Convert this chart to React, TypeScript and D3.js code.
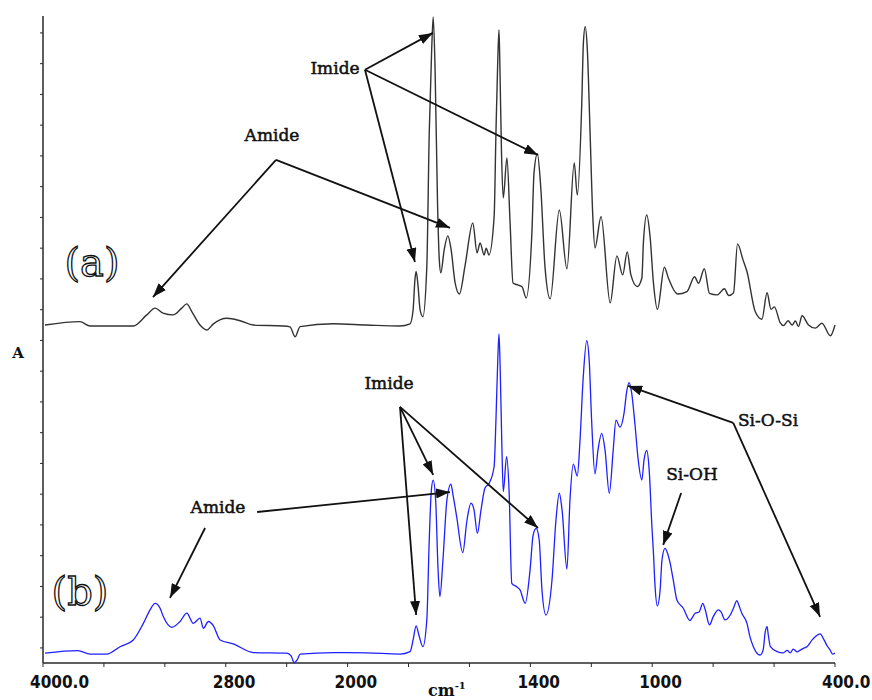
import React from "react";
import * as d3 from "d3";

// x axis (wavenumber, cm-1): FTIR scale with 2x expansion below 2000
const xDomain = [4000, 2000, 400];
const xTickValues = [4000, 3600, 3200, 2800, 2400, 2000, 1800, 1600, 1400, 1200, 1000, 800, 600, 400];
const xLabelValues = [4000, 2800, 2000, 1400, 1000, 400];
const xLabelTexts = ["4000.0", "2800", "2000", "1400", "1000", "400.0"];
const yTickValues = d3.range(0, 21);

// spectrum (a): [wavenumber, absorbance (a.u.)]
const spectrumA: [number, number][] = [
  [3987, 10.5], [3757, 10.61], [3691, 10.47], [3407, 10.47], [3319, 10.83], [3264, 11.05],
  [3212, 10.89], [3146, 10.83], [3089, 11.05], [3056, 11.19], [3023, 10.94], [2969, 10.5],
  [2925, 10.34], [2881, 10.54], [2793, 10.72], [2706, 10.64], [2618, 10.5], [2422, 10.47],
  [2378, 10.44], [2345, 10.12], [2312, 10.45], [2095, 10.54], [1937, 10.5], [1828, 10.47],
  [1795, 10.54], [1785, 10.99], [1779, 11.97], [1775, 12.24], [1769, 11.8], [1762, 10.99],
  [1753, 10.77], [1740, 12.39], [1732, 16.75], [1724, 19.45], [1719, 20.52], [1713, 18.89],
  [1705, 14.57], [1699, 12.62], [1694, 12.2], [1683, 12.94], [1671, 13.4], [1660, 12.94],
  [1647, 11.87], [1633, 11.51], [1614, 12.46], [1589, 13.82], [1575, 12.85], [1565, 13.17],
  [1552, 12.78], [1545, 13.0], [1536, 12.78], [1519, 14.02], [1513, 16.75], [1507, 19.12],
  [1503, 20.1], [1500, 18.89], [1495, 16.2], [1489, 14.63], [1477, 15.93], [1467, 13.92],
  [1457, 11.87], [1440, 11.8], [1427, 11.74], [1414, 11.38], [1395, 13.5], [1388, 15.45],
  [1377, 16.07], [1366, 14.99], [1352, 12.39], [1335, 11.35], [1305, 14.24], [1280, 12.33],
  [1256, 15.77], [1246, 14.73], [1231, 17.82], [1226, 19.67], [1220, 20.2], [1213, 19.45],
  [1204, 16.75], [1195, 14.02], [1188, 13.01], [1168, 14.02], [1138, 11.22], [1116, 12.75],
  [1097, 12.13], [1082, 12.88], [1070, 12.13], [1049, 11.75], [1034, 12.03], [1029, 13.17],
  [1018, 14.08], [1007, 13.37], [996, 11.87], [983, 11.01], [960, 12.38], [947, 12.03],
  [917, 11.51], [886, 11.59], [861, 12.07], [848, 11.86], [829, 12.33], [812, 11.53],
  [787, 11.48], [763, 11.68], [749, 11.46], [733, 11.55], [720, 13.14], [702, 12.62],
  [689, 12.24], [662, 10.94], [640, 10.69], [623, 11.55], [610, 11.01], [599, 11.09],
  [580, 10.58], [569, 10.48], [554, 10.64], [541, 10.5], [530, 10.63], [520, 10.45],
  [508, 10.8], [487, 10.5], [465, 10.4], [443, 10.56], [415, 10.15], [400, 10.5],
];

// spectrum (b): [wavenumber, absorbance (a.u.)]
const spectrumB: [number, number][] = [
  [3987, -0.17], [3770, -0.09], [3691, -0.2], [3582, -0.2], [3494, 0.04], [3407, 0.26],
  [3341, 0.8], [3297, 1.24], [3264, 1.45], [3232, 1.3], [3210, 1.02], [3155, 0.67],
  [3100, 0.86], [3056, 1.13], [3013, 0.8], [2969, 0.97], [2947, 0.64], [2914, 0.86],
  [2881, 0.72], [2837, 0.26], [2750, 0.13], [2619, -0.15], [2399, -0.17], [2371, -0.26],
  [2351, -0.48], [2331, -0.39], [2312, -0.2], [2093, -0.15], [1937, -0.16], [1828, -0.2],
  [1795, -0.12], [1785, 0.26], [1775, 0.72], [1766, 0.42], [1753, 0.04], [1740, 0.91],
  [1732, 3.51], [1725, 5.14], [1719, 5.46], [1711, 4.81], [1703, 2.54], [1697, 1.67],
  [1687, 2.86], [1674, 4.81], [1661, 5.33], [1654, 4.98], [1642, 4.27], [1622, 3.1],
  [1608, 4.16], [1595, 4.71], [1585, 4.49], [1574, 3.73], [1562, 4.49], [1549, 5.2],
  [1535, 5.36], [1519, 5.9], [1513, 7.41], [1507, 9.37], [1503, 10.21], [1499, 9.04],
  [1494, 6.76], [1489, 5.08], [1478, 6.22], [1470, 5.14], [1461, 2.1], [1445, 1.99],
  [1434, 1.89], [1417, 1.45], [1401, 2.54], [1391, 3.67], [1381, 3.89], [1371, 3.51],
  [1362, 1.89], [1349, 1.07], [1329, 2.21], [1316, 4.16], [1305, 5.03], [1296, 4.49],
  [1280, 2.56], [1270, 4.81], [1259, 5.98], [1246, 5.59], [1237, 6.76], [1227, 8.72],
  [1215, 9.99], [1207, 9.37], [1199, 7.41], [1188, 5.66], [1178, 6.44], [1166, 6.98],
  [1155, 6.44], [1141, 5.03], [1128, 6.44], [1119, 7.41], [1106, 7.18], [1092, 7.67],
  [1084, 8.33], [1076, 8.63], [1068, 8.33], [1056, 7.2], [1046, 6.11], [1034, 5.46],
  [1027, 6.11], [1018, 6.42], [1010, 5.79], [1001, 3.94], [996, 3.09], [991, 2.05],
  [983, 1.37], [974, 1.89], [968, 2.86], [958, 3.24], [950, 3.09], [941, 2.75],
  [931, 2.21], [919, 1.56], [898, 1.29], [876, 0.89], [869, 0.98], [859, 1.13],
  [846, 1.17], [834, 1.45], [826, 1.24], [812, 0.75], [800, 1.01], [783, 1.24],
  [774, 1.17], [761, 0.91], [744, 1.07], [733, 1.3], [722, 1.54], [715, 1.37],
  [706, 1.13], [689, 0.8], [679, 0.36], [668, 0.04], [646, -0.23], [636, -0.07],
  [629, 0.52], [623, 0.69], [619, 0.42], [612, 0.04], [590, -0.12], [570, -0.16],
  [557, -0.08], [547, -0.16], [537, -0.04], [524, -0.13], [514, -0.07], [501, 0.0],
  [492, 0.04], [475, 0.26], [462, 0.39], [449, 0.46], [436, 0.26], [426, 0.07],
  [416, -0.07], [408, -0.2], [400, -0.17],
];

// annotation arrows in data coordinates: [fromWn, fromA, toWn, toA]
const arrowsData: [number, number, number, number][] = [
  [1943, 18.8, 1720, 20.0],
  [1943, 18.8, 1375, 16.03],
  [1943, 18.8, 1779, 12.55],
  [2470, 15.87, 3278, 11.41],
  [2470, 15.87, 1664, 13.66],
  [1828, 7.84, 1719, 5.63],
  [1828, 7.84, 1375, 3.9],
  [1828, 7.84, 1775, 1.07],
  [2594, 4.42, 1664, 5.07],
  [2936, 3.9, 3166, 1.63],
  [734, 7.32, 1079, 8.52],
  [734, 7.32, 449, 1.01],
  [905, 5.04, 964, 3.35],
];

const labelTexts = ["Imide", "Amide", "Imide", "Amide", "Si-O-Si", "Si-OH"];
const labelPos: [number, number][] = [
  [335, 74], [272, 141], [389, 389], [218, 513], [768, 426], [692, 480],
];

export default function App() {
  const W = 872;
  const H = 700;
  const x = d3.scaleLinear().domain(xDomain).range([43, 347.6, 835]);
  const y = d3.scaleLinear().domain([-0.49, 20.55]).range([663, 16]);
  const line = d3
    .line<[number, number]>()
    .x((d) => x(d[0]))
    .y((d) => y(d[1]))
    .curve(d3.curveMonotoneX);

  const axisColor = "#2a2a2a";
  const serif = "'DejaVu Serif', 'Liberation Serif', serif";

  return (
    <svg
      width={W}
      height={H}
      style={{ position: "absolute", left: 0, top: 0, background: "#fff" }}
    >
      <defs>
        <marker
          id="ah"
          viewBox="0 0 14 10"
          refX={14}
          refY={5}
          markerWidth={14}
          markerHeight={10}
          markerUnits="userSpaceOnUse"
          orient="auto"
        >
          <path d="M0,0 L14,5 L0,10 z" fill="#111" />
        </marker>
      </defs>

      {/* axes */}
      <line x1={43} x2={43} y1={16} y2={663} stroke={axisColor} strokeWidth={1.5} />
      <line x1={43} x2={835} y1={663} y2={663} stroke={axisColor} strokeWidth={1.5} />
      {yTickValues.map((t) => (
        <line key={"yt" + t} x1={40} x2={43} y1={y(t)} y2={y(t)} stroke={axisColor} strokeWidth={1} />
      ))}
      {xTickValues.map((t) => (
        <line key={"xt" + t} x1={x(t)} x2={x(t)} y1={663} y2={667} stroke={axisColor} strokeWidth={1} />
      ))}
      {xLabelValues.map((v, i) => (
        <text
          key={"xl" + v}
          x={x(v) - 13}
          y={688}
          fontFamily="'DejaVu Sans Condensed', 'DejaVu Sans', sans-serif"
          fontStretch="condensed"
          fontWeight="bold"
          fontSize={17}
          fill="#111"
        >
          {xLabelTexts[i]}
        </text>
      ))}
      <text x={428} y={696} fontFamily={serif} fontWeight="bold" fontSize={16} fill="#111">
        cm
        <tspan dy={-7} fontSize={10}>-1</tspan>
      </text>
      <text x={18} y={358} textAnchor="middle" fontFamily={serif} fontWeight="bold" fontSize={15} fill="#111">
        A
      </text>

      {/* spectra */}
      <path d={line(spectrumA) || ""} fill="none" stroke="#333" strokeWidth={1.4} strokeLinejoin="round" />
      <path d={line(spectrumB) || ""} fill="none" stroke="#1f1fff" strokeWidth={1.3} strokeLinejoin="round" />

      {/* panel labels */}
      <text x={92} y={276} textAnchor="middle" fontFamily={serif} fontSize={40} fill="#fff" stroke="#111" strokeWidth={1.3}>
        (a)
      </text>
      <text x={80} y={605} textAnchor="middle" fontFamily={serif} fontSize={40} fill="#fff" stroke="#111" strokeWidth={1.3}>
        (b)
      </text>

      {/* annotations */}
      {arrowsData.map((a, i) => (
        <line
          key={"ar" + i}
          x1={x(a[0])}
          y1={y(a[1])}
          x2={x(a[2])}
          y2={y(a[3])}
          stroke="#111"
          strokeWidth={1.8}
          markerEnd="url(#ah)"
        />
      ))}
      {labelTexts.map((t, i) => (
        <text
          key={"lb" + i}
          x={labelPos[i][0]}
          y={labelPos[i][1]}
          textAnchor="middle"
          fontFamily={serif}
          fontSize={17}
          fill="#111"
          stroke="#111"
          strokeWidth={0.5}
        >
          {t}
        </text>
      ))}
    </svg>
  );
}
